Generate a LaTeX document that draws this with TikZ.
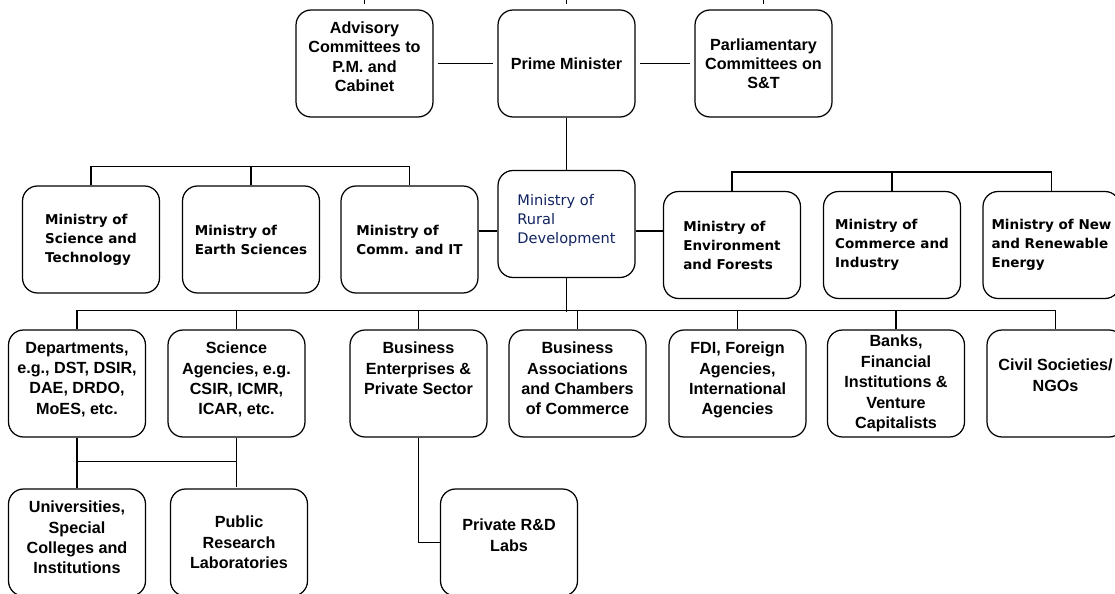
\documentclass[tikz,border=0pt]{standalone}
\usepackage{fontspec}
\setmainfont{Liberation Sans}
\newfontfamily\verdfont{DejaVu Sans}
\definecolor{ruralblue}{RGB}{18,36,96}
\newcommand{\boxtext}[2][t]{\parbox[c][1.66cm][#1]{2.62cm}{\centering #2}}

\tikzset{
  orgbox/.style={draw, rounded corners=0.3cm, minimum width=2.74cm, minimum height=2.14cm,
    inner sep=0pt, align=center, font=\bfseries\fontsize{9.2}{10.9}\selectfont},
  unitbox/.style={orgbox, font=\bfseries\fontsize{9.2}{11.6}\selectfont},
  minbox/.style={orgbox, align=left, font=\verdfont\bfseries\fontsize{7.7}{10.8}\selectfont},
  rdbox/.style={minbox, font=\verdfont\fontsize{8.3}{10.8}\selectfont, text=ruralblue}
}

\begin{document}
\begin{tikzpicture}[x=0.02cm, y=-0.02cm, line width=0.7pt]
        \useasboundingbox (0,0) rectangle (1115,594);
        \clip (0,0) rectangle (1115,594);
        % top row
        \node[orgbox] (adv) at (364.5,63.5) {\boxtext{Advisory\\Committees to\\P.M. and\\Cabinet}};
        \node[orgbox] (pm) at (566.5,63.5) {Prime Minister};
        \node[orgbox] (parl) at (763.5,63.5) {Parliamentary\\Committees on\\S\&T};
        % ministries
        \node[minbox] (mst) at (91,239.5) {Ministry of\\Science and\\Technology};
        \node[minbox] (mes) at (251,239.5) {Ministry of\\Earth Sciences};
        \node[minbox] (mci) at (409.5,239.5) {Ministry of\\Comm. and IT};
        \node[rdbox] (mrd) at (566.5,224) {Ministry of\\Rural\\Development\\[-0.18cm]};
        \node[minbox] (menv) at (732,245) {Ministry of\\Environment\\and Forests};
        \node[minbox] (mcom) at (892,245) {Ministry of\\Commerce and\\Industry};
        \node[minbox] (mnre) at (1051.5,245) {Ministry of New\\and Renewable\\Energy};
        % institutions
        \node[unitbox] (dep) at (77,383.5) {\boxtext{Departments,\\e.g., DST, DSIR,\\DAE, DRDO,\\MoES, etc.}};
        \node[unitbox] (sag) at (236.5,383.5) {\boxtext{Science\\Agencies, e.g.\\CSIR, ICMR,\\ICAR, etc.}};
        \node[unitbox] (bep) at (418.5,383.5) {\boxtext{Business\\Enterprises \&\\Private Sector}};
        \node[unitbox] (bac) at (577.5,383.5) {\boxtext{Business\\Associations\\and Chambers\\of Commerce}};
        \node[unitbox] (fdi) at (737.5,383.5) {\boxtext{FDI, Foreign\\Agencies,\\International\\Agencies}};
        \node[unitbox] (bnk) at (896,383.5) {\boxtext[c]{Banks,\\Financial\\Institutions \&\\Venture\\Capitalists}};
        \node[unitbox] (civ) at (1055.5,383.5) {\boxtext{\vspace*{0.34cm}Civil Societies/\\NGOs}};
        % lowest row
        \node[unitbox] (uni) at (77,542.5) {\boxtext{Universities,\\Special\\Colleges and\\Institutions}};
        \node[unitbox] (prl) at (239,542.5) {Public\\Research\\Laboratories};
        \node[unitbox] (prd) at (509,542.5) {\boxtext{\vspace*{0.36cm}Private R\&D\\Labs}};

        % connectors
        \foreach \n in {adv,pm,parl}
            \draw (\n.north) ++(0,-5) -- ++(0,-10);
        \draw[shorten <=0.08cm, shorten >=0.08cm] (adv.east) -- (pm.west);
        \draw[shorten <=0.08cm, shorten >=0.08cm] (pm.east) -- (parl.west);
        \draw (pm.south) -- (mrd.north);
        \draw (mst.north) -- ++(0,-19) -| (mci.north);
        \draw (mes.north) -- ++(0,-19);
        \draw (menv.north) -- ++(0,-19) -| (mnre.north);
        \draw (mcom.north) -- ++(0,-19);
        \coordinate (rdl) at ([yshift=-0.14cm]mrd.west);
        \coordinate (rdr) at ([yshift=-0.14cm]mrd.east);
        \draw (rdl) -- (rdl -| mci.east);
        \draw (rdr) -- (rdr -| menv.west);
        \draw (mrd.south) -- ++(0,34);
        \draw (dep.north) -- ++(0,-19) -| (civ.north);
        \foreach \n in {sag,bep,bac,fdi,bnk}
            \draw (\n.north) -- ++(0,-19);
        \draw (dep.south) -- (uni.north);
        \draw (sag.south) -- ++(0,49);
        \path (dep.south) ++(0,24) coordinate (jn);
        \draw (jn) -- (jn -| sag.south);
        \draw (bep.south) |- (prd.west);
\end{tikzpicture}
\end{document}
